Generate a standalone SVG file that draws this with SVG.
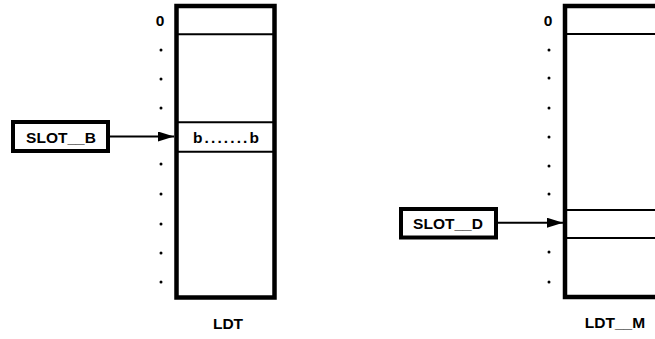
<svg xmlns="http://www.w3.org/2000/svg" width="655" height="339" viewBox="0 0 655 339">
<defs>
<style>
.t{font-family:"Liberation Sans",Arial,sans-serif;font-weight:bold;font-size:15.5px;fill:#000}
.box{fill:#fff;stroke:#000;stroke-width:4.5}
.slot{fill:#fff;stroke:#000;stroke-width:4}
.ln{stroke:#000;stroke-width:2;fill:none}
.dot{fill:#000}
.c{stroke:#000;stroke-width:2;fill:none}
</style>
<marker id="ah" viewBox="0 0 16 10" refX="16" refY="5" markerWidth="16" markerHeight="10" markerUnits="userSpaceOnUse" orient="auto">
<path d="M0,0 L16,5 L0,10 Z" fill="#000"/>
</marker>
</defs>
<rect width="655" height="339" fill="#fff"/>
<g id="ldt">
<rect class="box" x="176.5" y="6" width="98" height="291.5"/>
<line class="ln" x1="176.5" y1="34.3" x2="274.5" y2="34.3"/>
<line class="ln" x1="176.5" y1="122.3" x2="274.5" y2="122.3"/>
<line class="ln" x1="176.5" y1="151.7" x2="274.5" y2="151.7"/>
<text class="t" x="193" y="143" textLength="66" lengthAdjust="spacing">b.......b</text>
<text class="t" x="160" y="26" text-anchor="middle">0</text>
<g class="dot">
<circle cx="161" cy="50" r="1.5"/><circle cx="161" cy="79" r="1.5"/><circle cx="161" cy="108" r="1.5"/>
<circle cx="161" cy="164" r="1.5"/><circle cx="161" cy="194" r="1.5"/><circle cx="161" cy="224" r="1.5"/>
<circle cx="161" cy="253" r="1.5"/><circle cx="161" cy="282" r="1.5"/>
</g>
<text class="t" x="228" y="329" text-anchor="middle">LDT</text>
</g>
<g id="ldt_m">
<rect class="box" x="565" y="6" width="98" height="291"/>
<line class="ln" x1="565" y1="34" x2="663" y2="34"/>
<line class="ln" x1="565" y1="210" x2="663" y2="210"/>
<line class="ln" x1="565" y1="238" x2="663" y2="238"/>
<text class="t" x="548" y="26" text-anchor="middle">0</text>
<g class="dot">
<circle cx="549" cy="50" r="1.5"/><circle cx="549" cy="78" r="1.5"/><circle cx="549" cy="108" r="1.5"/>
<circle cx="549" cy="137" r="1.5"/><circle cx="549" cy="166" r="1.5"/><circle cx="549" cy="194" r="1.5"/>
<circle cx="549" cy="252" r="1.5"/><circle cx="549" cy="282" r="1.5"/>
</g>
<text class="t" x="615" y="328" text-anchor="middle">LDT__M</text>
</g>
<g id="slot_b">
<rect class="slot" x="13" y="122" width="95" height="29"/>
<text class="t" x="61" y="142.5" text-anchor="middle">SLOT__B</text>
</g>
<g id="slot_d">
<rect class="slot" x="401" y="209" width="95" height="28.5"/>
<text class="t" x="448" y="228.5" text-anchor="middle">SLOT__D</text>
</g>
<g id="connectors">
<line class="c" x1="110" y1="136.5" x2="174" y2="136.5" marker-end="url(#ah)"/>
<line class="c" x1="498" y1="222.7" x2="563" y2="222.7" marker-end="url(#ah)"/>
</g>
</svg>
